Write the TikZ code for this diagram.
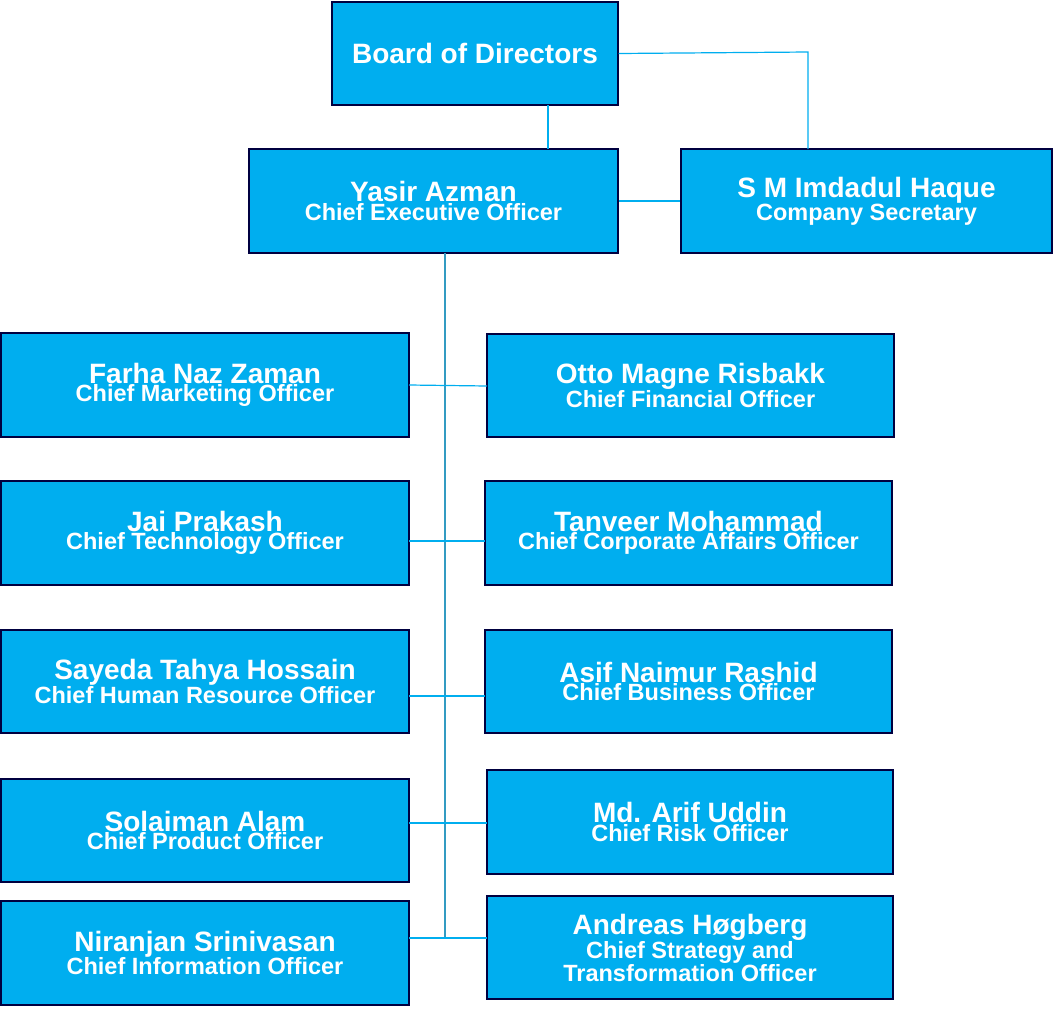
\documentclass[tikz,border=0pt]{standalone}
\usepackage{fontspec}
\setmainfont{Liberation Sans}
\definecolor{cyanbox}{HTML}{00AEEF}
\newcommand{\bx}[6]{\node[boxst,minimum width={#4-#2},minimum height={#5-#3}] (#1) at ({(#2+#4)/2},{(#3+#5)/2}) {#6};}
\newcommand{\bigf}{\fontsize{28}{32}\selectfont}
\newcommand{\smf}{\fontsize{23.5}{32}\selectfont}
\newcommand{\nm}[2]{\bigf #1\\ \smf #2}
\begin{document}
\begin{tikzpicture}[x=1pt,y=-1pt,
  boxst/.style={draw=black!75!blue,line width=1.2pt,fill=cyanbox,text=white,font=\bfseries,align=center,inner sep=0pt},
  link/.style={draw=cyanbox,line width=1.2pt}]
\useasboundingbox (0,0) rectangle (1053,1010);
\bx{bod}{332}{2}{618}{105}{\bigf Board of Directors}
\bx{ceo}{249}{149}{618}{253}{\nm{Yasir Azman}{Chief Executive Officer}}
\bx{cs}{681}{149}{1052}{253}{\nm{S M Imdadul Haque}{Company Secretary}}
\bx{l1}{1}{333}{409}{437}{\nm{Farha Naz Zaman}{Chief Marketing Officer}}
\bx{l2}{1}{481}{409}{585}{\nm{Jai Prakash}{Chief Technology Officer}}
\bx{l3}{1}{630}{409}{733}{\nm{Sayeda Tahya Hossain}{Chief Human Resource Officer}}
\bx{l4}{1}{779}{409}{882}{\nm{Solaiman Alam}{Chief Product Officer}}
\bx{l5}{1}{901}{409}{1005}{\nm{Niranjan Srinivasan}{Chief Information Officer}}
\bx{r1}{487}{334}{894}{437}{\nm{Otto Magne Risbakk}{Chief Financial Officer}}
\bx{r2}{485}{481}{892}{585}{\nm{Tanveer Mohammad}{Chief Corporate Affairs Officer}}
\bx{r3}{485}{630}{892}{733}{\nm{Asif Naimur Rashid}{Chief Business Officer}}
\bx{r4}{487}{770}{893}{874}{\nm{Md. Arif Uddin}{Chief Risk Officer}}
\bx{r5}{487}{896}{893}{999}{\bigf Andreas Høgberg\\ \smf Chief Strategy and\\ \smf Transformation Officer}
\coordinate (vt) at (445,253);
\coordinate (vb) at (445,938);
\draw[link] (548,105) -- (548,149);
\draw[link] (bod.east) -- (808,52) -- (808,149);
\draw[link] (ceo.east) -- (cs.west);
\draw[link,draw=cyanbox!60!gray] (vt) -- (vb);
\draw[link] (409,385) -- (487,386);
\draw[link] (409,541) -- (485,541);
\draw[link] (409,696) -- (485,696);
\draw[link] (409,823) -- (487,823);
\draw[link] (409,938) -- (487,938);
\end{tikzpicture}
\end{document}
